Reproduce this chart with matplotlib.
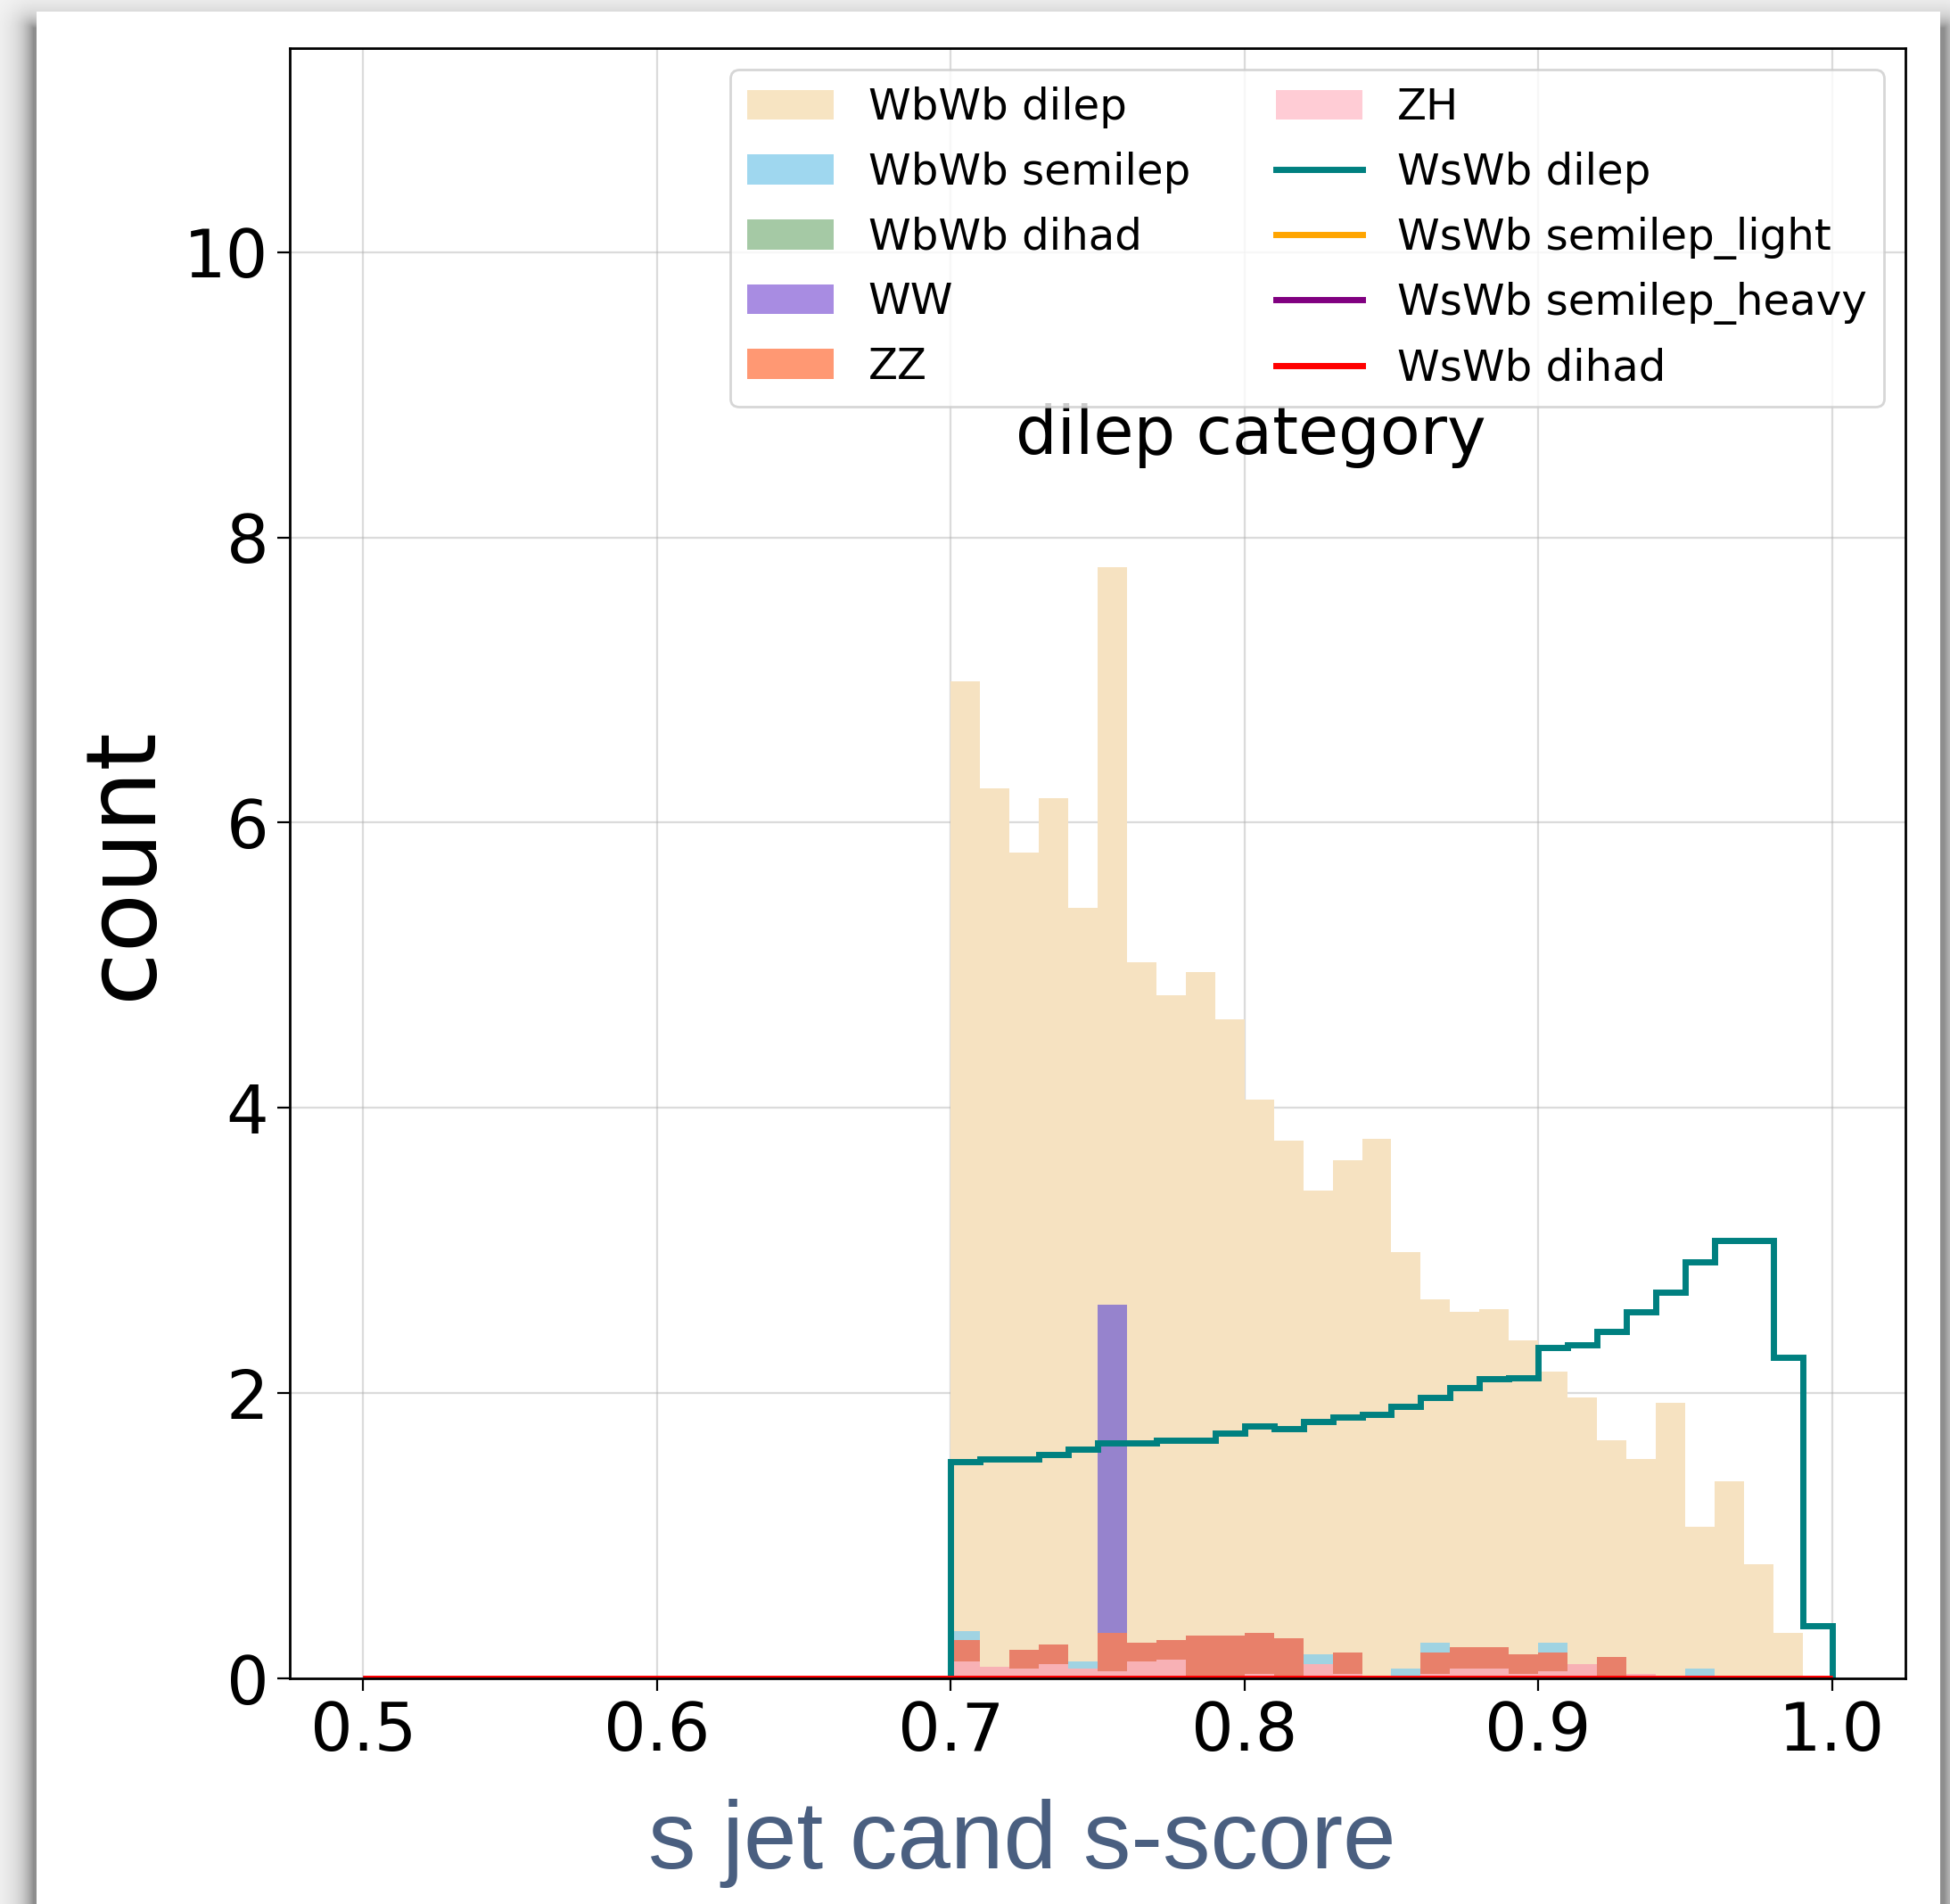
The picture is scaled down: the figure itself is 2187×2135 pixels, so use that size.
import matplotlib
matplotlib.use("Agg")
import matplotlib.pyplot as plt
import numpy as np
from matplotlib.patches import Patch
from matplotlib.lines import Line2D

# 50 bins of width 0.01 on [0.5, 1.0]; nothing below 0.70
edges = np.linspace(0.5, 1.0, 51)
empty = [0.0] * 20

wbwb_dilep = empty + [6.99, 6.24, 5.79, 6.17, 5.40, 7.79, 5.02, 4.79, 4.95, 4.62,
                      4.06, 3.77, 3.42, 3.63, 3.78, 2.99, 2.66, 2.57, 2.59, 2.37,
                      2.15, 1.97, 1.67, 1.54, 1.93, 1.06, 1.38, 0.80, 0.32, 0.0]
wbwb_semilep = empty + [0.333, 0, 0, 0, 0.117, 0, 0, 0, 0, 0,
                        0, 0, 0.167, 0, 0, 0.067, 0.25, 0, 0, 0,
                        0.25, 0, 0, 0, 0, 0.067, 0, 0, 0, 0]
wbwb_dihad = empty + [0] * 26 + [0.008, 0, 0, 0]
ww = empty + [0, 0, 0, 0, 0, 2.62] + [0] * 24
zz = empty + [0.267, 0, 0.20, 0.235, 0, 0.317, 0.25, 0.267, 0.30, 0.30,
              0.317, 0.283, 0, 0.183, 0, 0, 0.183, 0.217, 0.217, 0.167,
              0.183, 0, 0.15, 0, 0, 0, 0, 0, 0, 0]
zh = empty + [0.119, 0.083, 0.067, 0.10, 0.067, 0.05, 0.117, 0.133, 0.017, 0.017,
              0.03, 0, 0.10, 0.033, 0.017, 0, 0.033, 0.067, 0.067, 0.033,
              0.05, 0.10, 0, 0.033, 0.017, 0, 0, 0.017, 0, 0]

wswb_dilep = empty + [1.52, 1.54, 1.54, 1.57, 1.61, 1.65, 1.65, 1.67, 1.67, 1.72,
                      1.77, 1.75, 1.80, 1.83, 1.85, 1.91, 1.97, 2.04, 2.10, 2.11,
                      2.32, 2.34, 2.43, 2.57, 2.71, 2.92, 3.07, 3.07, 2.25, 0.37]
wswb_semilep_light = [0.0] * 50
wswb_semilep_heavy = [0.0] * 50
wswb_dihad = [0.0] * 50

bkg_labels = ["WbWb dilep", "WbWb semilep", "WbWb dihad", "WW", "ZZ", "ZH"]
bkg_values = [wbwb_dilep, wbwb_semilep, wbwb_dihad, ww, zz, zh]
bkg_colors = ["wheat", "skyblue", "darkseagreen", "mediumpurple", "coral", "pink"]
# colours as they end up on the plot after the 0.8-alpha overlaps
bkg_drawn = ["#f6e2c1", "#a0d3e2", "#a6c9a6", "#9683cd", "#e8806a", "#f8b1b5"]

sig_labels = ["WsWb dilep", "WsWb semilep_light", "WsWb semilep_heavy", "WsWb dihad"]
sig_values = [wswb_dilep, wswb_semilep_light, wswb_semilep_heavy, wswb_dihad]
sig_colors = ["teal", "orange", "purple", "red"]

W, H = 2187, 2135
fig = plt.figure(figsize=(W / 200, H / 200), dpi=200)

# screenshot card (white) with a soft drop shadow behind it
yy, xx = np.mgrid[0:H, 0:W]
sx0, sx1, sy0 = 37, 2180, 31
dx = np.maximum(np.maximum(sx0 - xx, xx - sx1), 0)
dy = np.maximum(sy0 - yy, 0)
d = np.hypot(dx, dy)
bg = 245 * (1 - 0.42 * np.exp(-d / 14))
bg[13:, 41:2176] = 255
bg_ax = fig.add_axes([0, 0, 1, 1], zorder=-10)
bg_ax.imshow(bg, cmap="gray", vmin=0, vmax=255, extent=(0, W, H, 0),
             aspect="auto", interpolation="nearest")
bg_ax.axis("off")

ax = fig.add_axes([325 / W, 1 - 1882 / H, (2137 - 325) / W, (1882 - 54) / H])
ax.set_facecolor("white")

for vals, c in zip(bkg_values, bkg_drawn):
    ax.stairs(vals, edges, fill=True, color=c, linewidth=0)
for vals, c in zip(sig_values, sig_colors):
    ax.stairs(vals, edges, baseline=0, color=c, linewidth=2.5)

ax.set_xlim(0.475, 1.025)
ax.set_ylim(0, 11.43)
ax.set_yticks([0, 2, 4, 6, 8, 10])
ax.grid(True, color="#b0b0b0", alpha=0.45, linewidth=0.8)
ax.set_axisbelow(True)
ax.tick_params(labelsize=27, length=5)
for s in ax.spines.values():
    s.set_linewidth(1.0)
ax.set_ylabel("count", fontsize=39, labelpad=5)

ax.text(0.595, 0.751, "dilep category", transform=ax.transAxes,
        ha="center", va="baseline", fontsize=26.5)

handles = [Patch(facecolor=c, alpha=0.8, edgecolor="none") for c in bkg_colors]
handles += [Line2D([], [], color=c, linewidth=2.5) for c in sig_colors]
ax.legend(handles, bkg_labels + sig_labels, loc="upper right", ncol=2,
          fontsize=17.4, labelspacing=0.53)

fig.text(1146 / W, (H - 2095) / H, "s jet cand s-score", ha="center", va="baseline",
         fontsize=38.5, color="#4a5f80", family="Liberation Sans")

fig.savefig("out.png", dpi=200)
